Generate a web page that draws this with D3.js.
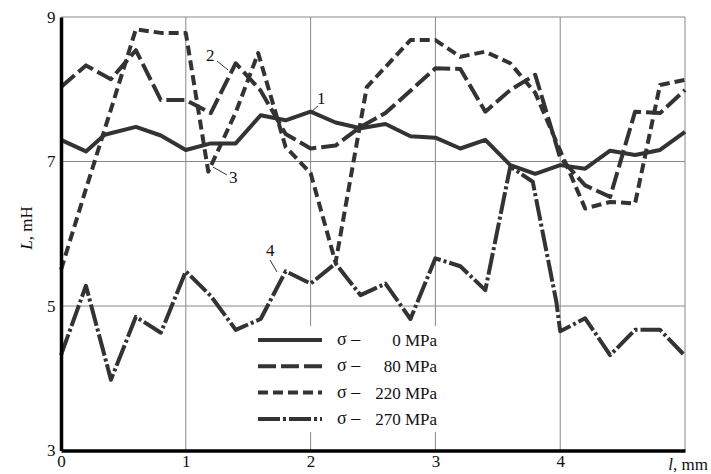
<!DOCTYPE html>
<html><head><meta charset="utf-8">
<script src="https://cdn.jsdelivr.net/npm/d3@7"></script>
<style>html,body{margin:0;padding:0;background:#fff;} svg{display:block;}</style>
</head><body>
<svg id="chart" width="711" height="474"></svg>
<script>
const xTicks = [0, 1, 2, 3, 4];
const yTicks = [3, 5, 7, 9];
const legendLabels = ["0 MPa", "80 MPa", "220 MPa", "270 MPa"];

const x0 = [0,0.2,0.35,0.6,0.8,1.0,1.2,1.4,1.6,1.8,2.0,2.2,2.4,2.6,2.8,3.0,3.2,3.4,3.6,3.8,4.0,4.2,4.4,4.6,4.8,5.0];
const y0 = [7.30,7.14,7.37,7.48,7.36,7.16,7.25,7.25,7.64,7.57,7.69,7.54,7.46,7.52,7.35,7.33,7.18,7.30,6.95,6.83,6.95,6.90,7.15,7.09,7.16,7.41];

const x80 = [0,0.2,0.4,0.6,0.8,1.0,1.2,1.4,1.6,1.8,2.0,2.2,2.4,2.6,2.8,3.0,3.2,3.4,3.6,3.8,4.0,4.2,4.4,4.6,4.8,5.0];
const y80 = [8.03,8.33,8.14,8.54,7.85,7.85,7.67,8.36,7.98,7.38,7.18,7.22,7.48,7.67,7.98,8.29,8.28,7.69,7.99,8.20,7.05,6.67,6.51,7.69,7.67,7.99];

const x220 = [0,0.2,0.4,0.6,0.8,1.0,1.18,1.4,1.58,1.8,2.0,2.2,2.45,2.8,3.0,3.2,3.4,3.6,3.8,4.0,4.2,4.4,4.6,4.8,5.0];
const y220 = [5.50,6.62,7.72,8.83,8.78,8.78,6.86,7.68,8.50,7.20,6.84,5.60,8.03,8.68,8.68,8.45,8.52,8.36,7.95,7.15,6.35,6.44,6.42,8.06,8.13];

const x270 = [0,0.2,0.4,0.6,0.8,1.0,1.2,1.4,1.6,1.8,2.0,2.2,2.4,2.6,2.8,3.0,3.2,3.4,3.6,3.78,3.97,4.0,4.2,4.4,4.6,4.8,5.0];
const y270 = [4.32,5.28,3.98,4.85,4.63,5.48,5.14,4.67,4.82,5.48,5.31,5.59,5.15,5.31,4.82,5.66,5.55,5.22,6.93,6.72,5.05,4.65,4.83,4.32,4.67,4.67,4.31];

const seriesX = [x0, x80, x220, x270];
const seriesY = [y0, y80, y220, y270];
const dashes = [null, "18,5", "10,5", "22,3,3,3"];
const color = "#333";

const svg = d3.select("#chart");
const x = d3.scaleLinear().domain([0, 5]).range([61, 685]);
const y = d3.scaleLinear().domain([3, 9]).range([450.5, 17]);
const font = "'Liberation Serif', 'Times New Roman', serif";

// grid
const g = svg.append("g");
g.selectAll(".vg").data([1,2,3,4,5]).enter().append("line")
  .attr("x1", d => x(d)).attr("x2", d => x(d)).attr("y1", y(9)).attr("y2", y(3))
  .attr("stroke", "#888").attr("stroke-width", 1);
g.selectAll(".hg").data([5,7,9]).enter().append("line")
  .attr("x1", x(0)).attr("x2", x(5)).attr("y1", d => y(d)).attr("y2", d => y(d))
  .attr("stroke", "#888").attr("stroke-width", 1);

// legend background (covers grid)
const legX = 258, legY0 = 340, legDy = 26.3;
svg.append("rect").attr("x", 250).attr("y", 326).attr("width", 192).attr("height", 106).attr("fill", "#fff");

// lines
const line = d3.line().x(d => x(d[0])).y(d => y(d[1]));
seriesX.forEach((xs, i) => {
  const pts = xs.map((v, j) => [v, seriesY[i][j]]);
  svg.append("path").datum(pts).attr("d", line)
    .attr("fill", "none").attr("stroke", color).attr("stroke-width", 4)
    .attr("stroke-linejoin", "round")
    .attr("stroke-dasharray", dashes[i]);
});

// axes
const xAxis = d3.axisBottom(x).tickValues(xTicks).tickSize(0).tickFormat(d3.format("d"));
const xa = svg.append("g").attr("transform", `translate(0,${y(3)})`).call(xAxis);
xa.select(".domain").attr("stroke", "#000").attr("stroke-width", 3.5);
xa.selectAll("text").attr("font-family", font).attr("font-size", 17).attr("fill", "#111").attr("dy", "0.78em");

const yAxis = d3.axisLeft(y).tickValues(yTicks).tickSize(0).tickFormat(d3.format("d"));
const ya = svg.append("g").attr("transform", `translate(${x(0)},0)`).call(yAxis);
ya.select(".domain").attr("stroke", "#000").attr("stroke-width", 3.5);
ya.selectAll("text").attr("font-family", font).attr("font-size", 17).attr("fill", "#111").attr("dx", "-0.15em");

// axis titles
const xt = svg.append("text").attr("x", 708).attr("y", 470).attr("text-anchor", "end")
  .attr("font-family", font).attr("font-size", 17).attr("fill", "#111");
xt.append("tspan").attr("font-style", "italic").text("l");
xt.append("tspan").text(", mm");

const yt = svg.append("text").attr("transform", "translate(32,228) rotate(-90)").attr("text-anchor", "middle")
  .attr("font-family", font).attr("font-size", 17).attr("fill", "#111");
yt.append("tspan").attr("font-style", "italic").text("L");
yt.append("tspan").text(", mH");

// curve labels
const labels = [
  {t: "1", tx: 317, ty: 104, l: [[318,106],[311,112]]},
  {t: "2", tx: 206, ty: 61, l: [[217,61],[228,70]]},
  {t: "3", tx: 229, ty: 183, l: [[213,167],[227,175]]},
  {t: "4", tx: 266, ty: 256, l: [[270,260],[277,272]]}
];
labels.forEach(o => {
  svg.append("text").attr("x", o.tx).attr("y", o.ty).attr("font-family", font)
    .attr("font-size", 17).attr("fill", "#111").text(o.t);
  svg.append("line").attr("x1", o.l[0][0]).attr("y1", o.l[0][1]).attr("x2", o.l[1][0]).attr("y2", o.l[1][1])
    .attr("stroke", "#333").attr("stroke-width", 1);
});

// legend
legendLabels.forEach((lab, i) => {
  const yy = legY0 + i * legDy;
  svg.append("line").attr("x1", legX).attr("x2", legX + 64).attr("y1", yy).attr("y2", yy)
    .attr("stroke", color).attr("stroke-width", 4).attr("stroke-dasharray", dashes[i]);
  svg.append("text").attr("x", 337).attr("y", yy + 5).attr("font-family", font)
    .attr("font-size", 18).attr("fill", "#111").text("σ –");
  svg.append("text").attr("x", 437).attr("y", yy + 6).attr("text-anchor", "end").attr("font-family", font)
    .attr("font-size", 17).attr("fill", "#111").text(lab);
});
</script>
</body></html>
